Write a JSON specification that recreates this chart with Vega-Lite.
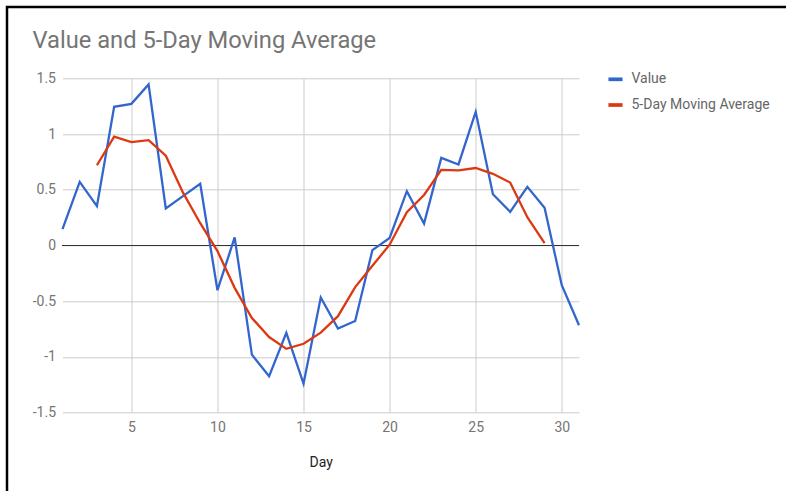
{
  "$schema": "https://vega.github.io/schema/vega-lite/v6.json",
  "width": 516.5,
  "height": 334.4,
  "autosize": {"type": "none"},
  "padding": {"left": 62.5, "top": 78.3, "right": 207, "bottom": 78.3},
  "background": "white",
  "title": {
    "text": "Value and 5-Day Moving Average",
    "anchor": "start",
    "frame": "group",
    "font": "Roboto",
    "fontSize": 23.7,
    "fontWeight": "normal",
    "color": "#757575",
    "dx": -30,
    "baseline": "alphabetic",
    "offset": 0,
    "dy": 66
  },
  "config": {
    "view": {"stroke": null},
    "font": "Roboto"
  },
  "data": {
    "values": [
      {"day": 1, "series": "Value", "value": 0.146},
      {"day": 2, "series": "Value", "value": 0.571},
      {"day": 3, "series": "Value", "value": 0.353},
      {"day": 4, "series": "Value", "value": 1.244},
      {"day": 5, "series": "Value", "value": 1.271},
      {"day": 6, "series": "Value", "value": 1.445},
      {"day": 7, "series": "Value", "value": 0.332},
      {"day": 8, "series": "Value", "value": 0.443},
      {"day": 9, "series": "Value", "value": 0.553},
      {"day": 10, "series": "Value", "value": -0.401},
      {"day": 11, "series": "Value", "value": 0.072},
      {"day": 12, "series": "Value", "value": -0.979},
      {"day": 13, "series": "Value", "value": -1.173},
      {"day": 14, "series": "Value", "value": -0.784},
      {"day": 15, "series": "Value", "value": -1.239},
      {"day": 16, "series": "Value", "value": -0.467},
      {"day": 17, "series": "Value", "value": -0.745},
      {"day": 18, "series": "Value", "value": -0.677},
      {"day": 19, "series": "Value", "value": -0.042},
      {"day": 20, "series": "Value", "value": 0.068},
      {"day": 21, "series": "Value", "value": 0.487},
      {"day": 22, "series": "Value", "value": 0.197},
      {"day": 23, "series": "Value", "value": 0.786},
      {"day": 24, "series": "Value", "value": 0.727},
      {"day": 25, "series": "Value", "value": 1.199},
      {"day": 26, "series": "Value", "value": 0.46},
      {"day": 27, "series": "Value", "value": 0.302},
      {"day": 28, "series": "Value", "value": 0.526},
      {"day": 29, "series": "Value", "value": 0.338},
      {"day": 30, "series": "Value", "value": -0.356},
      {"day": 31, "series": "Value", "value": -0.715},
      {"day": 3, "series": "5-Day Moving Average", "value": 0.72},
      {"day": 4, "series": "5-Day Moving Average", "value": 0.976},
      {"day": 5, "series": "5-Day Moving Average", "value": 0.928},
      {"day": 6, "series": "5-Day Moving Average", "value": 0.945},
      {"day": 7, "series": "5-Day Moving Average", "value": 0.806},
      {"day": 8, "series": "5-Day Moving Average", "value": 0.474},
      {"day": 9, "series": "5-Day Moving Average", "value": 0.2},
      {"day": 10, "series": "5-Day Moving Average", "value": -0.05},
      {"day": 11, "series": "5-Day Moving Average", "value": -0.38},
      {"day": 12, "series": "5-Day Moving Average", "value": -0.65},
      {"day": 13, "series": "5-Day Moving Average", "value": -0.821},
      {"day": 14, "series": "5-Day Moving Average", "value": -0.927},
      {"day": 15, "series": "5-Day Moving Average", "value": -0.882},
      {"day": 16, "series": "5-Day Moving Average", "value": -0.782},
      {"day": 17, "series": "5-Day Moving Average", "value": -0.634},
      {"day": 18, "series": "5-Day Moving Average", "value": -0.373},
      {"day": 19, "series": "5-Day Moving Average", "value": -0.182},
      {"day": 20, "series": "5-Day Moving Average", "value": 0.007},
      {"day": 21, "series": "5-Day Moving Average", "value": 0.299},
      {"day": 22, "series": "5-Day Moving Average", "value": 0.453},
      {"day": 23, "series": "5-Day Moving Average", "value": 0.679},
      {"day": 24, "series": "5-Day Moving Average", "value": 0.674},
      {"day": 25, "series": "5-Day Moving Average", "value": 0.695},
      {"day": 26, "series": "5-Day Moving Average", "value": 0.643},
      {"day": 27, "series": "5-Day Moving Average", "value": 0.565},
      {"day": 28, "series": "5-Day Moving Average", "value": 0.254},
      {"day": 29, "series": "5-Day Moving Average", "value": 0.021}
    ]
  },
  "layer": [
    {
      "mark": {"type": "rule", "color": "#333333", "strokeWidth": 1},
      "encoding": {
        "y": {"datum": 0, "type": "quantitative", "scale": {"domain": [-1.5, 1.5], "nice": false}},
        "opacity": {
          "datum": "frame",
          "type": "nominal",
          "scale": {"range": [1]},
          "legend": {
            "orient": "none",
            "legendX": -55.5,
            "legendY": -71.3,
            "padding": 450,
            "strokeColor": "black",
            "title": null,
            "symbolSize": 0,
            "symbolStrokeWidth": 0,
            "symbolStrokeColor": "transparent",
            "labelExpr": "''",
            "encode": {"legend": {"update": {"strokeWidth": {"value": 2.5}}}}
          }
        }
      }
    },
    {
      "mark": {"type": "line", "strokeWidth": 2.3},
      "encoding": {
        "x": {
          "field": "day",
          "type": "quantitative",
          "title": "Day",
          "scale": {"domain": [1, 31], "nice": false, "zero": false},
          "axis": {
            "values": [5, 10, 15, 20, 25, 30],
            "domain": false,
            "ticks": false,
            "grid": true,
            "gridColor": "#cccccc",
            "labelFont": "Roboto",
            "labelFontSize": 14,
            "labelColor": "#757575",
            "labelPadding": 8,
            "titleFont": "Roboto",
            "titleFontSize": 14,
            "titleFontWeight": "normal",
            "titleColor": "#222222",
            "titlePadding": 21
          }
        },
        "y": {
          "field": "value",
          "type": "quantitative",
          "title": null,
          "scale": {"domain": [-1.5, 1.5], "nice": false},
          "axis": {
            "values": [-1.5, -1, -0.5, 0, 0.5, 1, 1.5],
            "labelExpr": "datum.value + ''",
            "domain": false,
            "ticks": false,
            "grid": true,
            "gridColor": "#cccccc",
            "labelFont": "Roboto",
            "labelFontSize": 14,
            "labelColor": "#757575",
            "labelPadding": 7
          }
        },
        "color": {
          "field": "series",
          "type": "nominal",
          "sort": ["Value", "5-Day Moving Average"],
          "scale": {"domain": ["Value", "5-Day Moving Average"], "range": ["#3366cc", "#dc3912"]},
          "legend": {
            "orient": "none",
            "legendX": 544,
            "legendY": -8,
            "title": null,
            "symbolType": "stroke",
            "symbolSize": 200,
            "symbolStrokeWidth": 3.7,
            "labelFont": "Roboto",
            "labelFontSize": 14,
            "labelColor": "#666666",
            "labelOffset": 7,
            "rowPadding": 8.7,
            "padding": 0
          }
        }
      }
    }
  ]
}
